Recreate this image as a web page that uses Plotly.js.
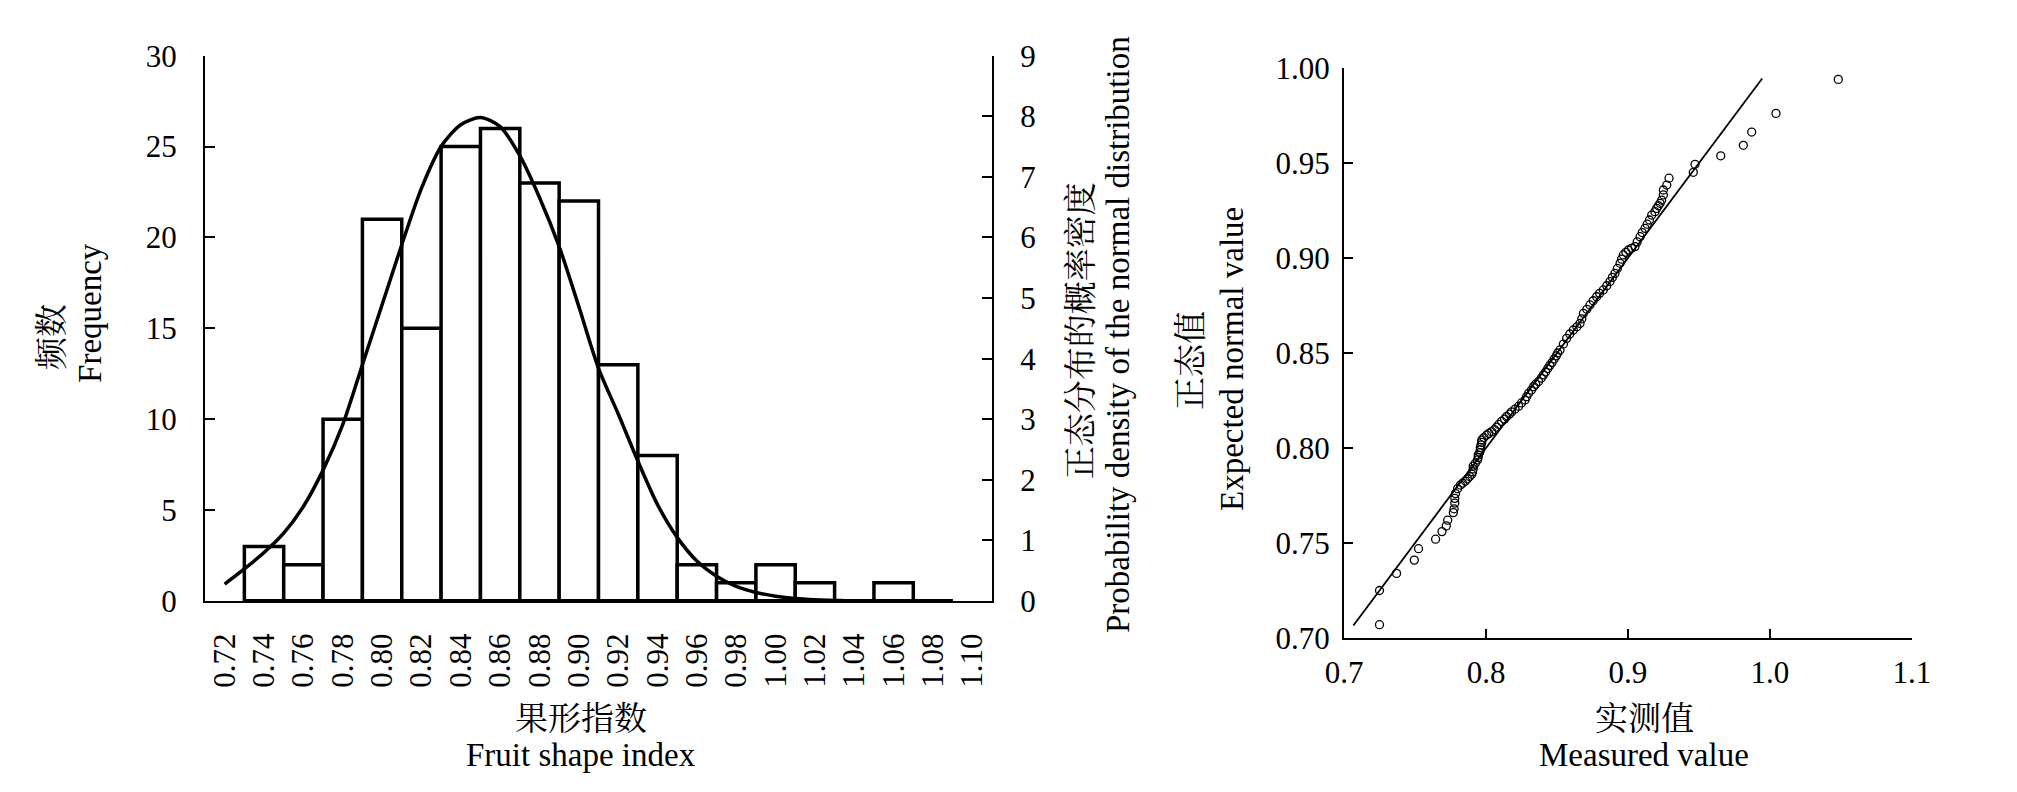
<!DOCTYPE html>
<html>
<head>
<meta charset="utf-8">
<script src="https://cdn.plot.ly/plotly-3.0.1.min.js"></script>
<style>html,body{margin:0;padding:0;background:#fff;}#chart{width:2017px;height:792px;}</style>
</head>
<body>
<div id="chart"></div>
<script>
// ---- Histogram data (bin centres, counts) ----
const binCenters = [0.74,0.76,0.78,0.80,0.82,0.84,0.86,0.88,0.90,0.92,0.94,0.96,0.98,1.00,1.02,1.04,1.06,1.08];
const binCounts  = [3,2,10,21,15,25,26,23,22,13,8,2,1,2,1,0,1,0];
const binWidth = 0.02;

// ---- Normal density curve (right axis units) ----
const curveX = [0.72,0.73,0.74,0.75,0.76,0.77,0.78,0.79,0.80,0.81,0.82,0.83,0.84,0.85,0.86,0.87,0.88,0.89,0.90,0.91,0.92,0.93,0.94,0.95,0.96,0.97,0.98,0.99,1.00,1.01,1.02,1.03,1.04,1.05,1.06,1.07,1.08,1.09];
const curveDensity = [0.28,0.53,0.80,1.12,1.56,2.16,2.91,3.90,4.89,5.88,6.81,7.50,7.86,7.98,7.83,7.35,6.66,5.85,4.86,3.84,3.09,2.31,1.59,1.05,0.66,0.41,0.24,0.14,0.08,0.04,0.02,0.01,0.00,0.00,0.00,0.00,0.00,0.00];

// ---- Histogram x tick labels ----
const xTickVals = [0.72,0.74,0.76,0.78,0.80,0.82,0.84,0.86,0.88,0.90,0.92,0.94,0.96,0.98,1.00,1.02,1.04,1.06,1.08,1.10];
const xTickText = ['0.72','0.74','0.76','0.78','0.80','0.82','0.84','0.86','0.88','0.90','0.92','0.94','0.96','0.98','1.00','1.02','1.04','1.06','1.08','1.10'];

// ---- Q-Q plot data ----
const qqMeasured = [0.725,0.725,0.737,0.7495,0.7525,0.7645,0.769,0.772,0.773,0.777,0.7775,0.778,0.778,0.7785,0.780,0.782,0.7835,0.7855,0.787,0.7885,0.790,0.7905,0.791,0.791,0.7925,0.794,0.7945,0.7945,0.7955,0.796,0.796,0.7965,0.797,0.797,0.7985,0.8005,0.802,0.804,0.806,0.8075,0.809,0.811,0.813,0.8145,0.8165,0.818,0.8205,0.823,0.825,0.8275,0.8285,0.830,0.832,0.8335,0.835,0.837,0.839,0.8405,0.842,0.8435,0.845,0.8465,0.848,0.8495,0.8505,0.8521,0.8545,0.8568,0.859,0.8615,0.864,0.8662,0.8675,0.8686,0.871,0.8732,0.8755,0.8779,0.880,0.8826,0.885,0.8873,0.889,0.8908,0.8925,0.8944,0.8955,0.8967,0.8985,0.9003,0.9025,0.9049,0.9065,0.9085,0.910,0.912,0.9135,0.9151,0.9167,0.919,0.9202,0.9214,0.9226,0.9237,0.9249,0.9249,0.9273,0.9289,0.946,0.9472,0.9653,0.9812,0.9871,1.0042,1.0481];
const qqExpected = [0.707,0.725,0.734,0.741,0.747,0.752,0.756,0.759,0.762,0.766,0.768,0.771,0.7735,0.776,0.7786,0.7805,0.7815,0.7826,0.7838,0.785,0.7862,0.7875,0.789,0.7905,0.792,0.7937,0.795,0.7963,0.7976,0.799,0.8003,0.8016,0.803,0.8042,0.8055,0.8068,0.8077,0.8086,0.8097,0.811,0.8124,0.814,0.8152,0.8165,0.8178,0.819,0.8205,0.822,0.8237,0.8253,0.827,0.8288,0.8305,0.8323,0.8336,0.835,0.8368,0.8385,0.840,0.8418,0.8435,0.845,0.8468,0.8485,0.850,0.8516,0.8547,0.8577,0.860,0.8621,0.8638,0.8656,0.868,0.8709,0.873,0.8753,0.8775,0.8796,0.8814,0.8832,0.8854,0.8876,0.8898,0.8919,0.8945,0.8972,0.8994,0.9016,0.903,0.9042,0.9051,0.906,0.9085,0.9112,0.9134,0.9156,0.9178,0.920,0.9226,0.9244,0.9261,0.9275,0.9288,0.9305,0.9332,0.9358,0.9384,0.942,0.9451,0.9493,0.9538,0.9593,0.9663,0.9761,0.994];
const qqLineX = [0.7066, 0.9945];
const qqLineY = [0.7066, 0.9945];

const SERIF = '"Liberation Serif", "Times New Roman", serif';
const CJK = '"Noto Serif CJK SC", "Noto Sans CJK SC", serif';
const TICKFONT = {family: SERIF, size: 31, color: '#000'};

// histogram base line spans the outer edges of the bins
const baseX = [binCenters[0] - binWidth / 2, binCenters[binCenters.length - 1] + binWidth / 2];
const baseY = [0, 0];

const traces = [
  {type:'bar', x: binCenters, y: binCounts, width: binWidth, xaxis:'x', yaxis:'y',
   marker:{color:'#fff', line:{color:'#000', width:3.5}}, hoverinfo:'skip'},
  {type:'scatter', mode:'lines', x: baseX, y: baseY, xaxis:'x', yaxis:'y',
   line:{color:'#000', width:4}, hoverinfo:'skip', cliponaxis:false},
  {type:'scatter', mode:'lines', x: curveX, y: curveDensity, xaxis:'x', yaxis:'y2',
   line:{color:'#000', width:3.5, shape:'spline', smoothing:0.8}, hoverinfo:'skip'},
  {type:'scatter', mode:'markers', x: qqMeasured, y: qqExpected, xaxis:'x2', yaxis:'y3',
   marker:{symbol:'circle-open', size:8, color:'#000', line:{width:1.3}}, hoverinfo:'skip'},
  {type:'scatter', mode:'lines', x: qqLineX, y: qqLineY, xaxis:'x2', yaxis:'y3',
   line:{color:'#000', width:1.8}, hoverinfo:'skip'}
];

const axBase = {showgrid:false, zeroline:false, showline:true, linecolor:'#000', linewidth:2,
  tickcolor:'#000', tickwidth:2, tickfont: TICKFONT, fixedrange:true};

function ann(text, x, y, angle, family) {
  return {text: text, x: x, y: y, xref:'paper', yref:'paper', showarrow:false,
    xanchor:'center', yanchor:'middle', textangle: angle,
    font:{family: family, size: 33, color:'#000'}};
}

const layout = {
  width: 2017, height: 792,
  margin:{l:0, r:0, t:0, b:0, pad:0},
  paper_bgcolor:'#fff', plot_bgcolor:'rgba(0,0,0,0)',
  showlegend:false, bargap:0,
  xaxis: Object.assign({}, axBase, {
    domain:[0.10164, 0.49182], range:[0.71, 1.11], anchor:'y',
    tickmode:'array', tickvals: xTickVals, ticktext: xTickText, tickangle:-90,
    ticks:'', ticklabelstandoff: 18
  }),
  yaxis: Object.assign({}, axBase, {
    domain:[0.24116, 0.92967], range:[0, 30], anchor:'x',
    tickmode:'linear', tick0:0, dtick:5, ticks:'inside', ticklen:10, ticklabelstandoff: 20
  }),
  yaxis2: Object.assign({}, axBase, {
    overlaying:'y', side:'right', anchor:'x', range:[0, 9],
    tickmode:'linear', tick0:0, dtick:1, ticks:'inside', ticklen:10, ticklabelstandoff: 20
  }),
  xaxis2: Object.assign({}, axBase, {
    domain:[0.66634, 0.94794], range:[0.7, 1.1], anchor:'y3',
    tickmode:'linear', tick0:0.7, dtick:0.1, tickformat:'.1f', ticks:'inside', ticklen:9,
    ticklabelstandoff: 6
  }),
  yaxis3: Object.assign({}, axBase, {
    domain:[0.19444, 0.91414], range:[0.70, 1.00], anchor:'x2',
    tickmode:'linear', tick0:0.7, dtick:0.05, tickformat:'.2f', ticks:'inside', ticklen:9,
    ticklabelstandoff: 6
  }),
  annotations: [
    ann('频数', 0.0243, 0.5745, -90, CJK),
    ann('Frequency', 0.0446, 0.6048, -90, SERIF),
    ann('正态分布的概率密度', 0.5340, 0.5820, -90, CJK),
    ann('Probability density of the normal distribution', 0.5543, 0.5770, -90, SERIF),
    ann('果形指数', 0.288, 0.096, 0, CJK),
    ann('Fruit shape index', 0.288, 0.0467, 0, SERIF),
    ann('正态值', 0.5890, 0.5442, -90, CJK),
    ann('Expected normal value', 0.6108, 0.5467, -90, SERIF),
    ann('实测值', 0.8151, 0.096, 0, CJK),
    ann('Measured value', 0.8151, 0.0467, 0, SERIF)
  ]
};

Plotly.newPlot('chart', traces, layout, {staticPlot:true, displayModeBar:false});
</script>
</body>
</html>
